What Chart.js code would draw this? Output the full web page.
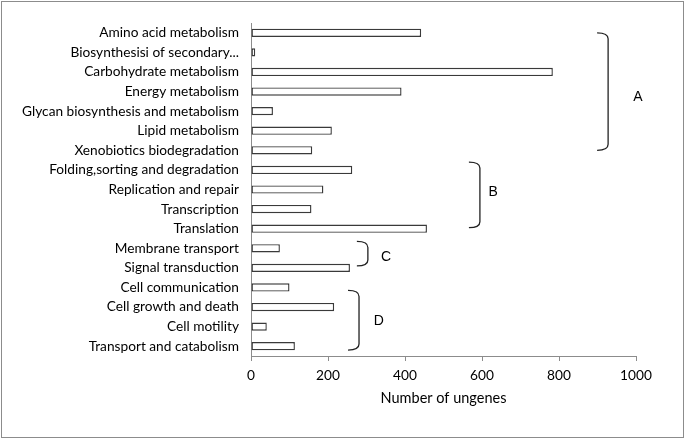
<!DOCTYPE html>
<html>
<head>
<meta charset="utf-8">
<script src="https://cdn.jsdelivr.net/npm/chart.js@4.4.1/dist/chart.umd.min.js"></script>
<style>
  html, body { margin: 0; padding: 0; background: #fff; }
  #wrap { width: 685px; height: 440px; position: relative; }
</style>
</head>
<body>
<div id="wrap"><canvas id="c" width="685" height="440"></canvas></div>
<script>
const categories = [
  "Amino acid metabolism",
  "Biosynthesisi of secondary...",
  "Carbohydrate metabolism",
  "Energy metabolism",
  "Glycan biosynthesis and metabolism",
  "Lipid metabolism",
  "Xenobiotics biodegradation",
  "Folding,sorting and degradation",
  "Replication and repair",
  "Transcription",
  "Translation",
  "Membrane transport",
  "Signal transduction",
  "Cell communication",
  "Cell growth and death",
  "Cell motility",
  "Transport and catabolism"
];
const ungenes = [442, 11, 784, 391, 57, 210, 159, 263, 188, 157, 457, 75, 257, 100, 216, 41, 114];
const xTicks = [0, 200, 400, 600, 800, 1000];
const axisTitle = "Number of ungenes";

// Group brackets: label, first/last category position, bracket x (data units), label position
const groupLabels = ["A", "B", "C", "D"];
const groupStart = [0, 6.6, 10.65, 13.15];
const groupEnd = [6, 9.95, 11.9, 16.2];
const groupBracketX = [899, 566, 275, 252];
const groupLabelX = [1005, 629, 351, 332];
const groupLabelCat = [3.3, 8.16, 11.44, 14.7];

const FONT = "Lato, 'Open Sans', sans-serif";

const frame = {
  id: 'frame',
  afterDraw(chart) {
    const ctx = chart.ctx;
    ctx.save();
    ctx.strokeStyle = '#8c8c8c';
    ctx.lineWidth = 1;
    ctx.strokeRect(1.5, 1.5, 682, 436);
    ctx.restore();
  }
};

const brackets = {
  id: 'brackets',
  afterDatasetsDraw(chart) {
    const ctx = chart.ctx;
    const xs = chart.scales.x, ys = chart.scales.y;
    ctx.save();
    ctx.strokeStyle = '#222';
    ctx.lineWidth = 1.3;
    groupLabels.forEach((lab, i) => {
      const x0 = xs.getPixelForValue(groupBracketX[i]);
      const top = ys.getPixelForValue(groupStart[i]);
      const bot = ys.getPixelForValue(groupEnd[i]);
      const w = 11, r = 6;
      ctx.beginPath();
      ctx.moveTo(x0, top);
      ctx.quadraticCurveTo(x0 + w, top, x0 + w, top + r);
      ctx.lineTo(x0 + w, bot - r);
      ctx.quadraticCurveTo(x0 + w, bot, x0, bot);
      ctx.stroke();
      ctx.fillStyle = '#000';
      ctx.font = "14px 'Liberation Sans', Arial, sans-serif";
      ctx.textAlign = 'center';
      ctx.textBaseline = 'middle';
      ctx.fillText(lab, xs.getPixelForValue(groupLabelX[i]), ys.getPixelForValue(groupLabelCat[i]));
    });
    ctx.restore();
  }
};

new Chart(document.getElementById('c'), {
  type: 'bar',
  data: {
    labels: categories,
    datasets: [{
      data: ungenes,
      backgroundColor: '#ffffff',
      borderColor: '#3a3a3a',
      borderWidth: 1.4,
      borderSkipped: false,
      barPercentage: 0.42,
      categoryPercentage: 1.0
    }]
  },
  options: {
    indexAxis: 'y',
    responsive: false,
    animation: false,
    devicePixelRatio: 1,
    layout: { padding: { left: 0, right: 49, top: 23, bottom: 33 } },
    plugins: { legend: { display: false }, tooltip: { enabled: false } },
    scales: {
      x: {
        min: 0, max: 1000,
        afterBuildTicks(scale) { scale.ticks = xTicks.map(v => ({ value: v })); },
        afterFit(scale) { scale.height = 51; },
        grid: { drawOnChartArea: false, drawTicks: true, tickLength: 5, color: '#8c8c8c' },
        border: { display: true, color: '#8c8c8c' },
        ticks: { color: '#000', font: { family: FONT, size: 13.7 }, padding: 6, maxRotation: 0,
                 callback: (v) => String(v) },
        title: { display: true, text: axisTitle, color: '#000', font: { family: FONT, size: 14.5 }, padding: 0 }
      },
      y: {
        afterFit(scale) { scale.width = 251; },
        grid: { display: false },
        border: { display: true, color: '#8c8c8c' },
        ticks: { color: '#000', font: { family: FONT, size: 13.7 }, padding: 4, autoSkip: false }
      }
    }
  },
  plugins: [frame, brackets]
});
</script>
</body>
</html>
